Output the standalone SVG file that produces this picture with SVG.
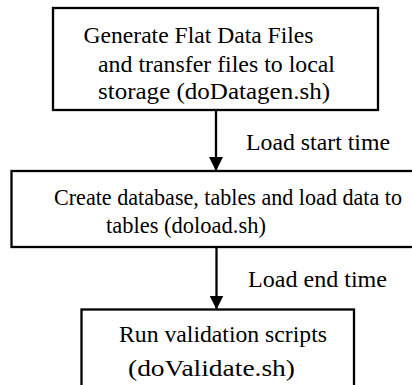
<svg xmlns="http://www.w3.org/2000/svg" width="412" height="385" viewBox="0 0 412 385">
<style>
.box{fill:#fff;stroke:#000;stroke-width:2.3}
.t{font-size:22.5px;fill:#000}
.edge{stroke:#000;stroke-width:2.3;fill:none}
</style>
<defs>
<marker id="ah" markerUnits="userSpaceOnUse" markerWidth="14" markerHeight="18" refX="13" refY="7" orient="auto">
<path d="M0,0 L14,7 L0,14 Z" fill="#000"/>
</marker>
</defs>
<rect width="412" height="385" fill="#fff"/>
<g font-family="Liberation Serif, DejaVu Serif, Noto Serif, serif">
<g id="n1">
<rect class="box" x="53" y="8" width="325" height="102"/>
<text class="t" x="83.5" y="43" textLength="230" lengthAdjust="spacingAndGlyphs">Generate Flat Data Files</text>
<text class="t" x="98" y="71.5" textLength="237" lengthAdjust="spacingAndGlyphs">and transfer files to local</text>
<text class="t" x="98" y="99" textLength="232" lengthAdjust="spacingAndGlyphs">storage (doDatagen.sh)</text>
</g>
<g id="n2">
<rect class="box" x="11.5" y="171" width="410" height="76"/>
<text class="t" x="54" y="205" textLength="348" lengthAdjust="spacingAndGlyphs">Create database, tables and load data to</text>
<text class="t" x="106" y="232.5" textLength="160" lengthAdjust="spacingAndGlyphs">tables (doload.sh)</text>
</g>
<g id="n3">
<rect class="box" x="81.5" y="309.5" width="272.5" height="90"/>
<text class="t" x="119" y="342" textLength="208" lengthAdjust="spacingAndGlyphs">Run validation scripts</text>
<text class="t" x="128" y="376" textLength="167" lengthAdjust="spacingAndGlyphs">(doValidate.sh)</text>
</g>
<g id="edges">
<line class="edge" x1="216" y1="110" x2="216" y2="170" marker-end="url(#ah)"/>
<line class="edge" x1="216.5" y1="247" x2="216.5" y2="308.5" marker-end="url(#ah)"/>
<text class="t" x="246" y="150" textLength="144" lengthAdjust="spacingAndGlyphs">Load start time</text>
<text class="t" x="248" y="287" textLength="139" lengthAdjust="spacingAndGlyphs">Load end time</text>
</g>
</g>
</svg>
